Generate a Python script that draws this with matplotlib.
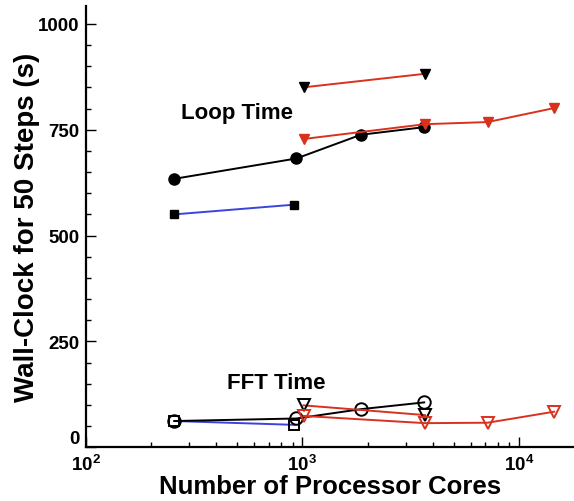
import matplotlib.pyplot as plt
from matplotlib.ticker import LogLocator, MultipleLocator, NullFormatter

plt.rcParams['font.family'] = ['Liberation Sans', 'DejaVu Sans']
plt.rcParams['font.weight'] = 'bold'
plt.rcParams['mathtext.fontset'] = 'custom'
plt.rcParams['mathtext.rm'] = 'Liberation Sans:bold'
plt.rcParams['mathtext.default'] = 'rm'

RED = '#d8321f'
BLUE = '#3a44dd'

# Loop time data
loop_circ_x = [256, 938, 1862, 3654]
loop_circ_y = [634, 682, 738, 756]
loop_sq_x = [256, 918]
loop_sq_y = [550, 573]
loop_tri_k_x = [1012, 3690]
loop_tri_k_y = [850, 882]
loop_tri_r_x = [1012, 3690, 7180, 14560]
loop_tri_r_y = [728, 763, 768, 801]

# FFT time data
fft_circ_x = [256, 938, 1862, 3654]
fft_circ_y = [62, 68, 90, 106]
fft_sq_x = [256, 918]
fft_sq_y = [62, 53]
fft_tri_k_x = [1012, 3690]
fft_tri_k_y = [99, 76]
fft_tri_r_x = [1012, 3690, 7180, 14560]
fft_tri_r_y = [74, 57, 58, 84]

fig = plt.figure(figsize=(5.74, 5.02), dpi=100)
ax = fig.add_axes([0.150, 0.107, 0.850, 0.879])

lw = 1.4
# loop
ax.plot(loop_sq_x, loop_sq_y, color=BLUE, lw=lw, marker='s', ms=5.5,
        mfc='black', mec='black')
ax.plot(loop_circ_x, loop_circ_y, color='black', lw=lw, marker='o', ms=8,
        mfc='black', mec='black')
ax.plot(loop_tri_k_x, loop_tri_k_y, color=RED, lw=lw, marker='v', ms=7,
        mfc='black', mec='black')
ax.plot(loop_tri_r_x, loop_tri_r_y, color=RED, lw=lw, marker='v', ms=7,
        mfc=RED, mec=RED)
# fft
ax.plot(fft_sq_x, fft_sq_y, color=BLUE, lw=lw, marker='s', ms=7,
        mfc='none', mec='black', mew=1.4)
ax.plot(fft_circ_x, fft_circ_y, color='black', lw=lw, marker='o', ms=9,
        mfc='none', mec='black', mew=1.4)
ax.plot(fft_tri_k_x, fft_tri_k_y, color=RED, lw=lw, marker='v', ms=8,
        mfc='none', mec='black', mew=1.4)
ax.plot(fft_tri_r_x, fft_tri_r_y, color=RED, lw=lw, marker='v', ms=8,
        mfc='none', mec=RED, mew=1.4)

ax.text(274, 790, 'Loop Time', fontsize=16, fontweight='bold', va='center')
ax.text(448, 154, 'FFT Time', fontsize=16, fontweight='bold', va='center')

ax.set_xscale('log')
ax.set_xlim(100, 18000)
ax.set_ylim(0, 1042)
ax.set_yticks([0, 250, 500, 750, 1000])
ax.yaxis.set_minor_locator(MultipleLocator(50))
ax.xaxis.set_major_locator(LogLocator(base=10))
ax.xaxis.set_minor_locator(LogLocator(base=10, subs=range(2, 10)))
ax.xaxis.set_minor_formatter(NullFormatter())

for s in ['top', 'right']:
    ax.spines[s].set_visible(False)
for s in ['left', 'bottom']:
    ax.spines[s].set_linewidth(1.6)

ax.tick_params(which='both', direction='in', width=1.0, labelsize=13.5)
ax.tick_params(which='major', length=7)
ax.tick_params(which='minor', length=3.5)
ax.tick_params(axis='x', pad=5)
ax.tick_params(axis='y', pad=5)

# the "0" label sits just above the x axis, as in the original
ax.get_yticklabels()[0].set_va('bottom')

ax.set_xlabel('Number of Processor Cores', fontsize=18.5, fontweight='bold', labelpad=0)
ax.set_ylabel('Wall-Clock for 50 Steps (s)', fontsize=20, fontweight='bold', labelpad=-1.5)

fig.savefig('out.png', dpi=100)
